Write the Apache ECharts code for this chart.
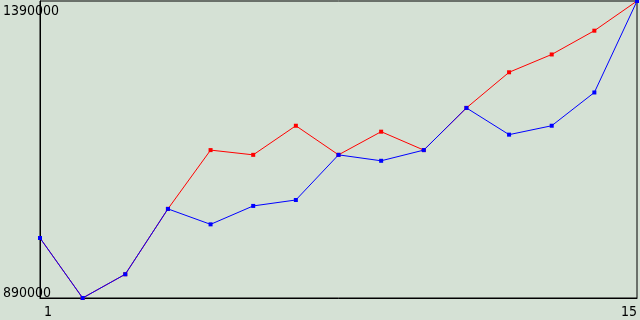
<!DOCTYPE html>
<html>
<head>
<meta charset="utf-8">
<style>
html,body{margin:0;padding:0;background:#d5e1d5;}
#chart{width:640px;height:320px;}
</style>
<script src="https://cdn.jsdelivr.net/npm/echarts@6/dist/echarts.min.js"></script>
</head>
<body>
<div id="chart"></div>
<script>
var categories = ['1','2','3','4','5','6','7','8','9','10','11','12','13','14','15'];
var redValues  = [991000, 890000, 930000, 1040000, 1139000, 1131000, 1180000, 1131000, 1170000, 1139000, 1210000, 1270000, 1300000, 1340000, 1390000];
var blueValues = [991000, 890000, 930000, 1040000, 1014000, 1045000, 1055000, 1131000, 1121000, 1139000, 1210000, 1165000, 1180000, 1236000, 1390000];
var yMin = 890000, yMax = 1390000;
var xTickLabels = ['1', '15'];

var FONT = 'DejaVu Sans Condensed';
var chart = echarts.init(document.getElementById('chart'), null, {renderer: 'canvas'});
function xAxisFor(which, align) {
  return {
    type: 'category', data: categories, boundaryGap: false,
    position: 'bottom',
    axisLine: {show: which === 0, lineStyle: {color: '#000', width: 1}},
    axisTick: {show: false}, splitLine: {show: false},
    axisLabel: {
      show: true, color: '#000', fontFamily: FONT, fontSize: 14, margin: 7, align: align,
      padding: which === 0 ? [0, 0, 0, 4] : [0, 0, 0, 0],
      interval: function (i) { return which === 0 ? i === 0 : i === categories.length - 1; },
      formatter: function (v) { return xTickLabels.indexOf(v) >= 0 ? v : ''; }
    }
  };
}
function yAxisFor(which, valign) {
  return {
    type: 'value', min: yMin, max: yMax, interval: yMax - yMin,
    position: 'left',
    axisLine: {show: which === 0, onZero: false, lineStyle: {color: '#000', width: 1}},
    axisTick: {show: false}, splitLine: {show: false},
    axisLabel: {
      show: true, color: '#000', fontFamily: FONT, fontSize: 14, margin: 37, align: 'left',
      verticalAlign: valign, lineHeight: which === 0 ? 20 : 10,
      formatter: function (v) {
        if (which === 0) return v === yMax ? String(v) : '';
        return v === yMin ? String(v) : '';
      }
    }
  };
}
chart.setOption({
  animation: false,
  backgroundColor: '#d5e1d5',
  grid: {left: 40, right: 2, top: 1, bottom: 22, show: true, borderColor: '#000', borderWidth: 1, backgroundColor: 'transparent'},
  xAxis: [xAxisFor(0, 'left'), xAxisFor(1, 'right')],
  yAxis: [yAxisFor(0, 'top'), yAxisFor(1, 'bottom')],
  series: [
    {type: 'line', data: redValues, symbol: 'rect', symbolSize: 4, showSymbol: true,
     lineStyle: {color: '#ff0000', width: 1}, itemStyle: {color: '#ff0000'}, z: 2},
    {type: 'line', data: blueValues, symbol: 'rect', symbolSize: 4, showSymbol: true,
     lineStyle: {color: '#0000ff', width: 1}, itemStyle: {color: '#0000ff'}, z: 3}
  ]
});
</script>
</body>
</html>
